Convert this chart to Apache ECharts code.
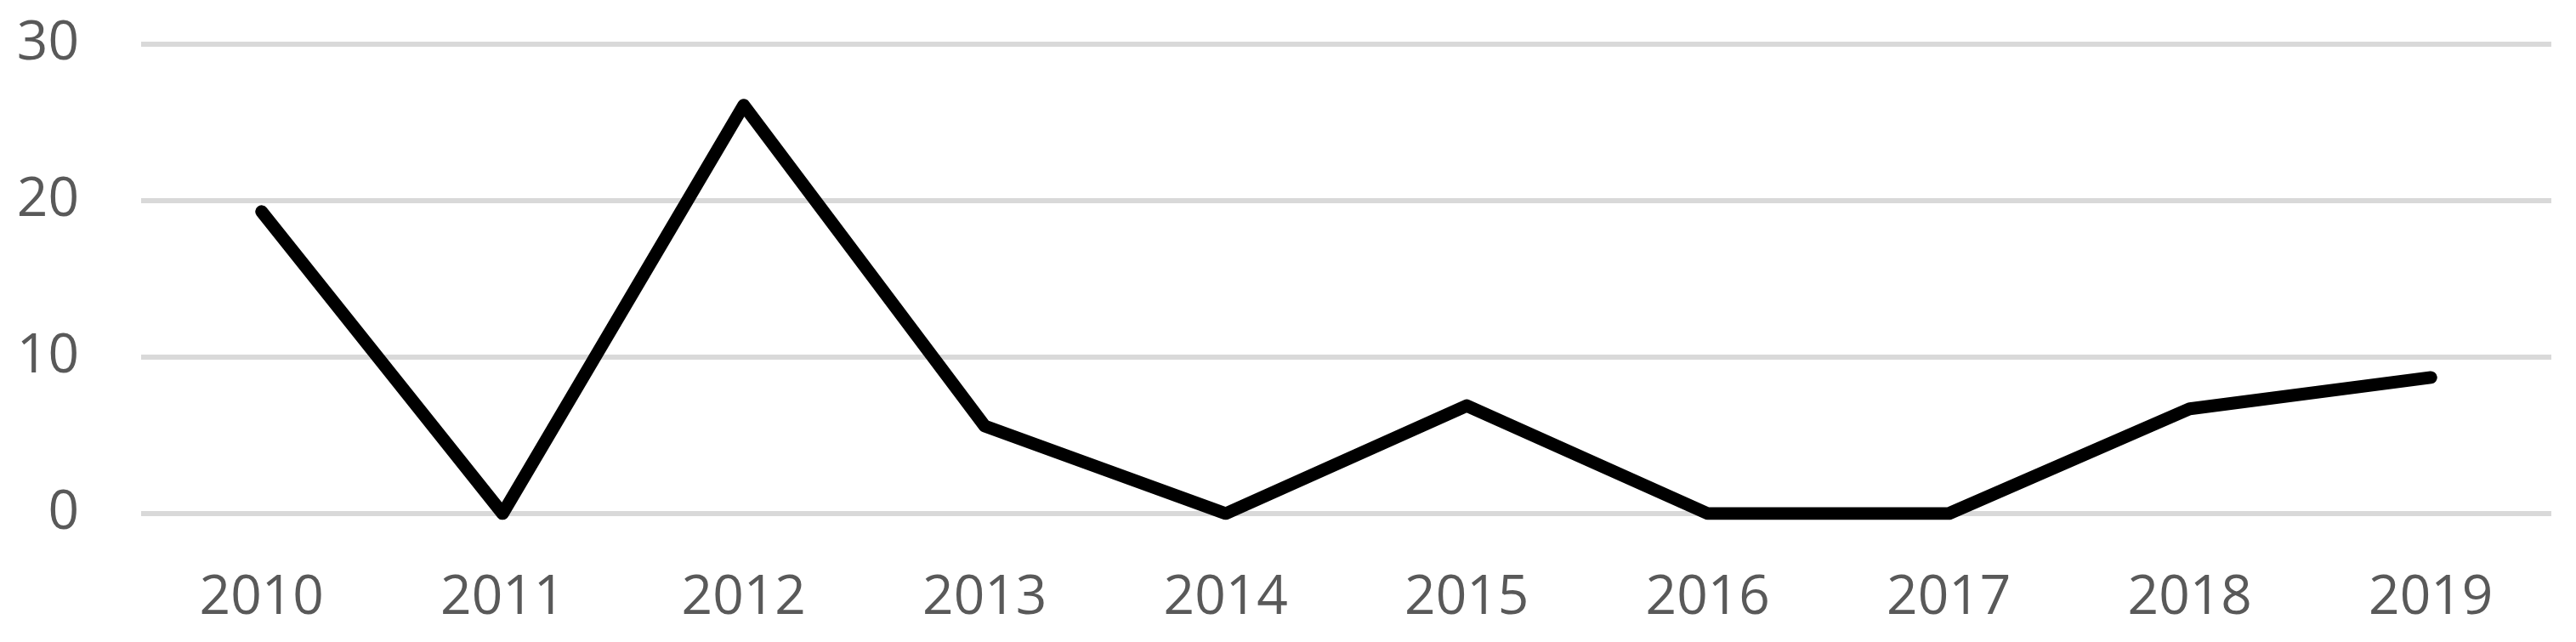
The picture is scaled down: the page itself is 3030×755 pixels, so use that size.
<!DOCTYPE html>
<html>
<head>
<meta charset="utf-8">
<script src="https://cdn.jsdelivr.net/npm/echarts@6/dist/echarts.min.js"></script>
<style>
  html, body { margin: 0; padding: 0; background: #fff; }
  #chart { width: 3030px; height: 755px; }
</style>
</head>
<body>
<div id="chart"></div>
<script>
// values
var years = ['2010', '2011', '2012', '2013', '2014', '2015', '2016', '2017', '2018', '2019'];
var values = [19.3, 0, 26.1, 5.6, 0, 6.9, 0, 0, 6.7, 8.7];
var yTicks = [0, 10, 20, 30];

var chart = echarts.init(document.getElementById('chart'));

var option = {
  backgroundColor: '#ffffff',
  animation: false,
  grid: {
    left: 166,
    right: 29,
    top: 52,
    bottom: 151
  },
  xAxis: {
    type: 'category',
    data: years,
    boundaryGap: true,
    axisLine: { show: false },
    axisTick: { show: false },
    axisLabel: {
      color: '#595959',
      fontFamily: 'Open Sans',
      fontSize: 64,
      margin: 68
    }
  },
  yAxis: {
    type: 'value',
    min: yTicks[0],
    max: yTicks[yTicks.length - 1],
    interval: 10,
    axisLine: { show: false },
    axisTick: { show: false },
    axisLabel: {
      color: '#595959',
      fontFamily: 'Open Sans',
      fontSize: 64,
      margin: 73
    },
    splitLine: {
      lineStyle: { color: '#d9d9d9', width: 6 }
    }
  },
  series: [{
    type: 'line',
    data: values,
    symbol: 'none',
    lineStyle: {
      color: '#000000',
      width: 15,
      cap: 'round',
      join: 'round'
    }
  }]
};
chart.setOption(option);
</script>
</body>
</html>
